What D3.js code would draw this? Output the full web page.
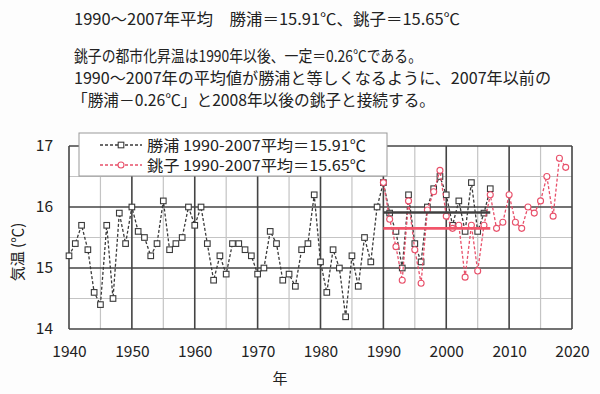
<!DOCTYPE html>
<html>
<head>
<meta charset="utf-8">
<script src="https://cdn.jsdelivr.net/npm/d3@7"></script>
<style>
  body { margin: 0; background: #fdfdfd; }
  text { font-family: "Noto Sans CJK JP", "Noto Sans", sans-serif; fill: #222; }
</style>
</head>
<body>
<div id="chart"></div>
<script>
// 勝浦 1940-2007
var katsuuraStart = 1940;
var katsuura = [
  15.2, 15.4, 15.7, 15.3, 14.6, 14.4, 15.7, 14.5, 15.9, 15.4,
  16.0, 15.6, 15.5, 15.2, 15.4, 16.1, 15.3, 15.4, 15.5, 16.0,
  15.7, 16.0, 15.4, 14.8, 15.2, 14.9, 15.4, 15.4, 15.3, 15.2,
  14.9, 15.0, 15.6, 15.4, 14.8, 14.9, 14.7, 15.3, 15.4, 16.2,
  15.1, 14.6, 15.3, 15.0, 14.2, 15.2, 14.7, 15.5, 15.1, 16.0,
  16.4, 15.9, 15.6, 15.0, 16.2, 15.4, 15.1, 16.0, 16.3, 16.5,
  16.2, 15.7, 16.1, 15.6, 16.4, 15.6, 15.9, 16.3
];
// 銚子 1990-2019
var choshiStart = 1990;
var choshi = [
  16.4, 15.8, 15.35, 14.8, 16.1, 15.3, 14.75, 15.95, 16.25, 16.6,
  15.85, 15.65, 15.7, 14.85, 15.7, 14.95, 15.7, 16.2, 15.65, 15.75,
  16.2, 15.75, 15.65, 16.0, 15.9, 16.1, 16.5, 15.85, 16.8, 16.65
];
var meanPeriod = [1990, 2007];
var meanKatsuura = 15.91;
var meanChoshi = 15.65;

var xTicks = [1940, 1950, 1960, 1970, 1980, 1990, 2000, 2010, 2020];
var xMinor = [1945, 1955, 1965, 1975, 1985, 1995, 2005, 2015];
var yTicks = [14, 15, 16, 17];
var yMinor = [14.5, 15.5, 16.5];

var legendLabels = ["勝浦 1990-2007平均＝15.91℃", "銚子 1990-2007平均＝15.65℃"];
var headerLines = [
  "1990～2007年平均　勝浦＝15.91℃、銚子＝15.65℃",
  "銚子の都市化昇温は1990年以後、一定＝0.26℃である。",
  "1990～2007年の平均値が勝浦と等しくなるように、2007年以前の",
  "「勝浦－0.26℃」と2008年以後の銚子と接続する。"
];

var katsuuraData = katsuura.map((v, i) => ({ year: katsuuraStart + i, value: v }));
var choshiData = choshi.map((v, i) => ({ year: choshiStart + i, value: v }));

var W = 600, H = 394;
var pLeft = 69, pRight = 572, pTop = 146, pBottom = 329;

var svg = d3.select("#chart").append("svg")
  .attr("width", W).attr("height", H);

svg.append("rect").attr("width", W).attr("height", H).attr("fill", "#fdfdfd");

// header text
var headerY = [25, 62, 84, 106];
var headerX = [74, 74, 74, 72];
var headerW = [386, 348, 477, 363];
headerLines.forEach((t, i) => {
  svg.append("text")
    .attr("x", headerX[i]).attr("y", headerY[i])
    .attr("font-size", 16)
    .attr("textLength", headerW[i])
    .attr("lengthAdjust", "spacingAndGlyphs")
    .text(t);
});

var x = d3.scaleLinear().domain([1940, 2020]).range([pLeft, pRight]);
var y = d3.scaleLinear().domain([14, 17]).range([pBottom, pTop]);

svg.append("rect")
  .attr("x", pLeft).attr("y", pTop)
  .attr("width", pRight - pLeft).attr("height", pBottom - pTop)
  .attr("fill", "#fff");

// minor grid
var grid = svg.append("g");
grid.selectAll(".vminor").data(xMinor).enter().append("line")
  .attr("x1", d => x(d)).attr("x2", d => x(d))
  .attr("y1", pTop).attr("y2", pBottom)
  .attr("stroke", "#c4c4c4").attr("stroke-width", 1.2);
grid.selectAll(".hminor").data(yMinor).enter().append("line")
  .attr("x1", pLeft).attr("x2", pRight)
  .attr("y1", d => y(d)).attr("y2", d => y(d))
  .attr("stroke", "#c4c4c4").attr("stroke-width", 1.2);
// major grid
grid.selectAll(".vmajor").data(xTicks).enter().append("line")
  .attr("x1", d => x(d)).attr("x2", d => x(d))
  .attr("y1", pTop).attr("y2", pBottom)
  .attr("stroke", "#444").attr("stroke-width", 1.6);
grid.selectAll(".hmajor").data(yTicks).enter().append("line")
  .attr("x1", pLeft).attr("x2", pRight)
  .attr("y1", d => y(d)).attr("y2", d => y(d))
  .attr("stroke", "#444").attr("stroke-width", 1.6);

// axes
var xAxis = svg.append("g").attr("transform", "translate(0," + pBottom + ")")
  .call(d3.axisBottom(x).tickValues(xTicks).tickFormat(d3.format("d")).tickSize(0).tickPadding(17));
xAxis.select(".domain").remove();
xAxis.selectAll("text").attr("font-size", 15.5).attr("fill", "#222")
  .attr("font-family", "'Noto Sans', sans-serif");

var yAxis = svg.append("g").attr("transform", "translate(" + pLeft + ",0)")
  .call(d3.axisLeft(y).tickValues(yTicks).tickFormat(d3.format("d")).tickSize(0).tickPadding(16));
yAxis.select(".domain").remove();
yAxis.selectAll("text").attr("font-size", 15.5).attr("fill", "#222")
  .attr("font-family", "'Noto Sans', sans-serif");

svg.append("text")
  .attr("transform", "translate(23,252) rotate(-90)")
  .attr("text-anchor", "middle").attr("font-size", 15)
  .text("気温 (℃)");

svg.append("text")
  .attr("x", 280).attr("y", 384)
  .attr("text-anchor", "middle").attr("font-size", 15)
  .text("年");

var line = d3.line().x(d => x(d.year)).y(d => y(d.value));

var blackCol = "#3a3a3a", redCol = "#e8506a";

// 勝浦
svg.append("path").datum(katsuuraData)
  .attr("d", line).attr("fill", "none")
  .attr("stroke", blackCol).attr("stroke-width", 1.3).attr("stroke-dasharray", "3,2");
svg.selectAll(".sq").data(katsuuraData).enter().append("rect")
  .attr("x", d => x(d.year) - 2.8).attr("y", d => y(d.value) - 2.8)
  .attr("width", 5.6).attr("height", 5.6)
  .attr("fill", "#fff").attr("stroke", blackCol).attr("stroke-width", 1.1);

// 銚子
svg.append("path").datum(choshiData)
  .attr("d", line).attr("fill", "none")
  .attr("stroke", redCol).attr("stroke-width", 1.3).attr("stroke-dasharray", "3,2");
svg.selectAll(".ci").data(choshiData).enter().append("circle")
  .attr("cx", d => x(d.year)).attr("cy", d => y(d.value)).attr("r", 3)
  .attr("fill", "#fff").attr("stroke", redCol).attr("stroke-width", 1.1);

// 平均線
svg.append("line")
  .attr("x1", x(meanPeriod[0])).attr("x2", x(meanPeriod[1]))
  .attr("y1", y(meanKatsuura)).attr("y2", y(meanKatsuura))
  .attr("stroke", "#404040").attr("stroke-width", 2.6);
svg.append("line")
  .attr("x1", x(meanPeriod[0])).attr("x2", x(meanPeriod[1]))
  .attr("y1", y(meanChoshi)).attr("y2", y(meanChoshi))
  .attr("stroke", "#f2556a").attr("stroke-width", 2.6);

// legend
var lg = svg.append("g");
lg.append("rect").attr("x", 79).attr("y", 133).attr("width", 308).attr("height", 43)
  .attr("fill", "#fff").attr("stroke", "#999").attr("stroke-width", 1);
[0, 1].forEach(i => {
  var ly = 145 + i * 20;
  var col = i === 0 ? blackCol : redCol;
  lg.append("line").attr("x1", 100).attr("x2", 142).attr("y1", ly).attr("y2", ly)
    .attr("stroke", col).attr("stroke-width", 1.3).attr("stroke-dasharray", "3,2");
  if (i === 0) {
    lg.append("rect").attr("x", 118.2).attr("y", ly - 2.8).attr("width", 5.6).attr("height", 5.6)
      .attr("fill", "#fff").attr("stroke", col).attr("stroke-width", 1.1);
  } else {
    lg.append("circle").attr("cx", 121).attr("cy", ly).attr("r", 3)
      .attr("fill", "#fff").attr("stroke", col).attr("stroke-width", 1.1);
  }
  lg.append("text").attr("x", 147).attr("y", ly + 5.5)
    .attr("font-size", 15).attr("textLength", 219).attr("lengthAdjust", "spacingAndGlyphs")
    .text(legendLabels[i]);
});
</script>
</body>
</html>
